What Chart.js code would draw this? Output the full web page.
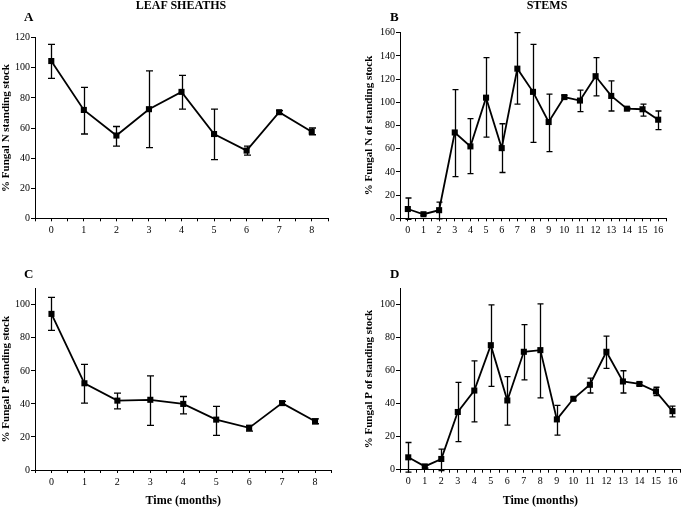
<!DOCTYPE html>
<html>
<head>
<meta charset="utf-8">
<script src="https://cdn.jsdelivr.net/npm/chart.js@4/dist/chart.umd.min.js"></script>
<style>
  html, body { margin: 0; padding: 0; background: #fff; }
  #wrap { position: relative; width: 685px; height: 508px; overflow: hidden; }
  canvas { position: absolute; }
  .lbl { position: absolute; font-family: "Liberation Serif", serif; font-weight: bold; color: #000; white-space: nowrap; }
  .head { font-size: 12px; line-height: 12px; transform: translateX(-50%); }
  .letter { font-size: 13px; line-height: 13px; }
</style>
</head>
<body>
<div id="wrap">
  <canvas id="chartA" width="340" height="250" style="left:0;top:0"></canvas>
  <canvas id="chartB" width="322" height="250" style="left:363px;top:0"></canvas>
  <canvas id="chartC" width="340" height="258" style="left:0;top:250px"></canvas>
  <canvas id="chartD" width="322" height="258" style="left:363px;top:250px"></canvas>
  <div class="lbl head" style="left:181px;top:-1px">LEAF SHEATHS</div>
  <div class="lbl head" style="left:547px;top:-1px">STEMS</div>
  <div class="lbl letter" style="left:24px;top:10px">A</div>
  <div class="lbl letter" style="left:390px;top:10px">B</div>
  <div class="lbl letter" style="left:24px;top:267px">C</div>
  <div class="lbl letter" style="left:390px;top:267px">D</div>
</div>
<script>
// months
const monthsLeaf = [0, 1, 2, 3, 4, 5, 6, 7, 8];
const monthsStem = [0, 1, 2, 3, 4, 5, 6, 7, 8, 9, 10, 11, 12, 13, 14, 15, 16];

// A: fungal N, leaf sheaths (mean, error bar low/high)
const nLeafMean = [104.5, 72, 55, 72.5, 84, 56, 45, 70.5, 57.5];
const nLeafLow  = [93, 56, 48, 47, 72.5, 39, 42, 69.5, 55.5];
const nLeafHigh = [115.5, 87, 61, 98, 95, 72.5, 48, 71.5, 60];

// B: fungal N, stems
const nStemMean = [8, 3.5, 7, 74, 62, 104, 60.5, 129, 109, 83, 104.5, 101.5, 122.5, 105.5, 94.5, 94, 85];
const nStemLow  = [-1, 2.5, -0.5, 36, 38.5, 70, 39.5, 98.5, 65.5, 57.5, 103, 92, 105.5, 92.5, 93.5, 88, 76.5];
const nStemHigh = [17.5, 4.5, 14, 111, 86, 138.5, 81.5, 160, 150, 107, 106, 110.5, 138.5, 118.5, 95.5, 98.5, 92.5];

// C: fungal P, leaf sheaths
const pLeafMean = [94.5, 52.5, 42, 42.5, 40, 30.5, 25.5, 40.5, 29.5];
const pLeafLow  = [84.5, 40.5, 37, 27, 34, 21, 23.5, 39.5, 28];
const pLeafHigh = [104.5, 64, 46.5, 57, 44.5, 38.5, 27, 41.5, 31];

// D: fungal P, stems
const pStemMean = [7.5, 2, 6.5, 35, 48, 75.5, 42, 71.5, 72.5, 30.5, 43, 51.5, 71.5, 53.5, 52, 47.5, 35.5];
const pStemLow  = [-1.5, 1, -0.5, 17, 29, 50.5, 27, 54.5, 43.5, 21, 42, 46.5, 61.5, 46.5, 51, 45, 32];
const pStemHigh = [16.5, 3, 12.5, 53, 66, 100, 56.5, 88, 100.5, 39, 44, 55.5, 81, 60, 53, 50, 38.5];

const serif = "'Liberation Serif', 'Times New Roman', serif";

// draws vertical error bars with caps, under the line/markers
const errorBars = {
  id: "errorBars",
  beforeDatasetsDraw(chart, args, opts) {
    const {ctx, scales: {x, y}} = chart;
    ctx.save();
    ctx.strokeStyle = "#000";
    ctx.lineWidth = 1.3;
    chart.data.datasets[0].data.forEach((p, i) => {
      const px = Math.round(x.getPixelForValue(p.x)) + 0.5;
      const top = y.getPixelForValue(opts.high[i]);
      const bot = y.getPixelForValue(opts.low[i]);
      ctx.beginPath();
      ctx.moveTo(px, top);
      ctx.lineTo(px, bot);
      ctx.moveTo(px - opts.cap, top);
      ctx.lineTo(px + opts.cap, top);
      ctx.moveTo(px - opts.cap, bot);
      ctx.lineTo(px + opts.cap, bot);
      ctx.stroke();
    });
    ctx.restore();
  },
};

function makeChart(id, months, mean, low, high, cfg) {
  const ctx = document.getElementById(id).getContext("2d");
  return new Chart(ctx, {
    type: "line",
    data: {
      datasets: [
        {
          data: months.map((m, i) => ({x: m, y: mean[i]})),
          borderColor: "#000",
          borderWidth: 1.8,
          pointStyle: "rect",
          pointRadius: 4.3,
          pointBorderWidth: 0,
          pointBackgroundColor: "#000",
          tension: 0,
          clip: false,
        },
      ],
    },
    options: {
      responsive: false,
      animation: false,
      layout: {padding: cfg.padding},
      plugins: {
        legend: {display: false},
        tooltip: {enabled: false},
        errorBars: {low: low, high: high, cap: cfg.cap},
      },
      scales: {
        x: {
          type: "linear",
          min: -0.5,
          max: months[months.length - 1] + 0.5,
          afterFit: (s) => { s.height = cfg.xHeight; },
          border: {display: true, color: "#000", width: 1},
          grid: {drawOnChartArea: false, drawTicks: true, tickLength: 3, color: "#000"},
          ticks: {
            stepSize: 0.5,
            autoSkip: false,
            maxRotation: 0,
            padding: 3,
            color: "#000",
            font: {family: serif, size: 10},
            callback: (v) => (Math.abs(v - Math.round(v)) < 1e-6 && v >= 0 ? Math.round(v) : ""),
          },
          title: {
            display: !!cfg.xTitle,
            text: cfg.xTitle || "",
            color: "#000",
            padding: {top: 0, bottom: 0},
            font: {family: serif, size: 12, weight: "bold"},
          },
        },
        y: {
          min: 0,
          max: cfg.yMax,
          afterFit: (s) => { s.width = cfg.yWidth; },
          border: {display: true, color: "#000", width: 1},
          grid: {drawOnChartArea: false, drawTicks: true, tickLength: 4, color: "#000"},
          ticks: {
            stepSize: 20,
            includeBounds: false,
            padding: 1,
            color: "#000",
            font: {family: serif, size: 10},
          },
          title: {
            display: true,
            text: cfg.yTitle,
            color: "#000",
            padding: {top: 0, bottom: 0},
            font: {family: serif, size: 11, weight: "bold"},
          },
        },
      },
    },
    plugins: [errorBars],
  });
}

makeChart("chartA", monthsLeaf, nLeafMean, nLeafLow, nLeafHigh, {
  yMax: 120, yTitle: "% Fungal N standing stock", yWidth: 35, xHeight: 31.7, cap: 3.5,
  padding: {top: 37.7, right: 12, left: 0, bottom: 0},
});
makeChart("chartB", monthsStem, nStemMean, nStemLow, nStemHigh, {
  yMax: 160, yTitle: "% Fungal N of standing stock", yWidth: 37, xHeight: 31.7, cap: 3,
  padding: {top: 32.7, right: 19, left: 0, bottom: 0},
});
makeChart("chartC", monthsLeaf, pLeafMean, pLeafLow, pLeafHigh, {
  yMax: 110, yTitle: "% Fungal P standing stock", yWidth: 35, xHeight: 38, cap: 3.5, xTitle: "Time (months)",
  padding: {top: 38.3, right: 8.5, left: 0, bottom: 0},
});
makeChart("chartD", monthsStem, pStemMean, pStemLow, pStemHigh, {
  yMax: 110, yTitle: "% Fungal P of standing stock", yWidth: 37, xHeight: 38.3, cap: 3, xTitle: "Time (months)",
  padding: {top: 38.3, right: 0.5, left: 0, bottom: 0},
});
</script>
</body>
</html>
